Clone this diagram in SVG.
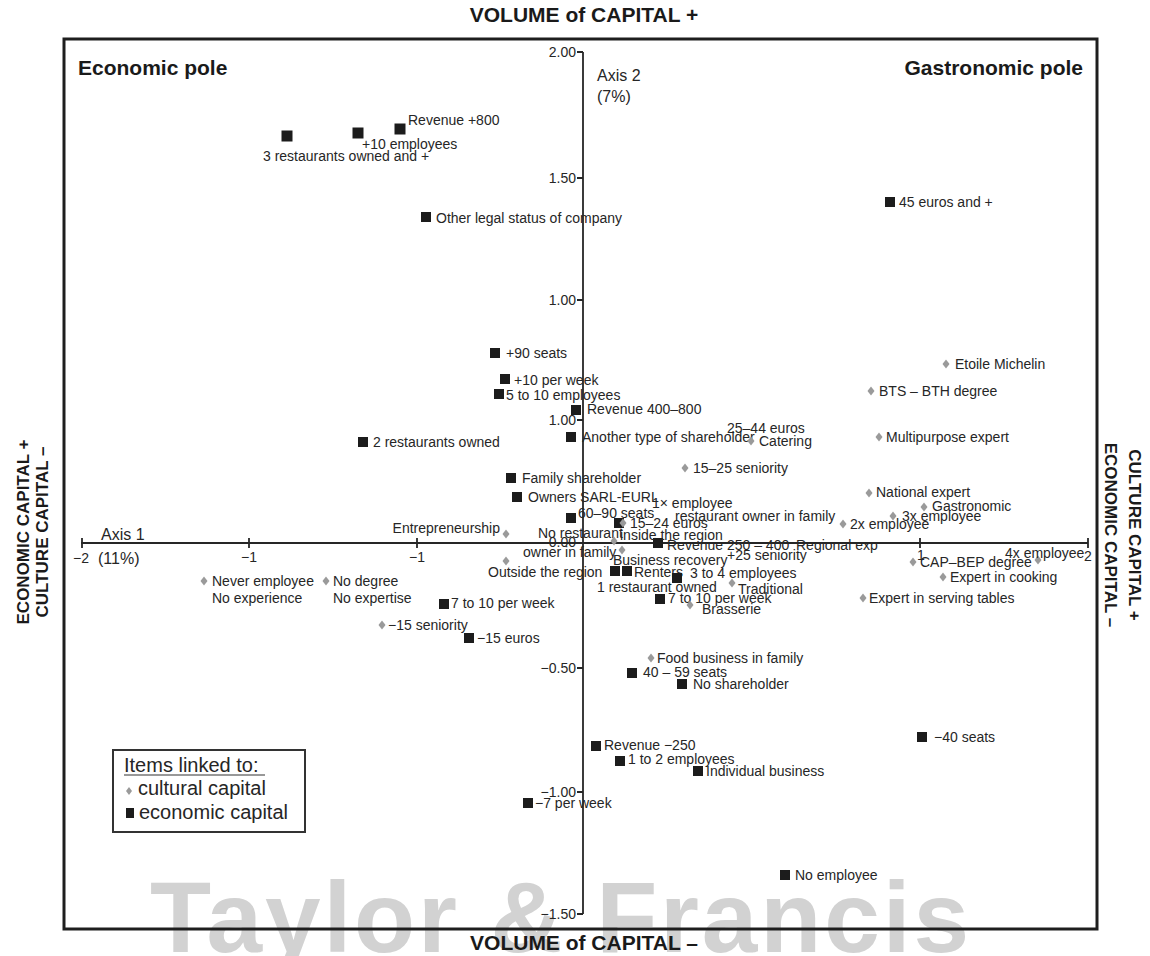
<svg xmlns="http://www.w3.org/2000/svg" width="1150" height="956" viewBox="0 0 1150 956">
<style>
text{font-family:"Liberation Sans",Arial,Helvetica,sans-serif;fill:#262626}
.t{font-size:14px}
.k{font-size:14px}
.h{font-size:21px;font-weight:bold;fill:#1a1a1a}
.v{font-size:17px;font-weight:bold;fill:#1a1a1a}
.ax{font-size:16px}
.lg{font-size:20px}
.sq{fill:#1c1c1c}
.dm{fill:#9a9a9a}
.ln{stroke:#262626;stroke-width:1.8;fill:none}
.wm{font-size:100px;font-weight:bold;fill:#d2d2d2}
</style>
<defs>
<rect id="s" x="-5" y="-5" width="10" height="10"/>
<rect id="sL" x="-5.5" y="-5.5" width="11" height="11"/>
<path id="d" d="M0,-4.5L3.5,0L0,4.5L-3.5,0Z"/>
</defs>
<rect width="1150" height="956" fill="#fff"/>
<text class="wm" x="150" y="952" textLength="819" lengthAdjust="spacing">Taylor &amp; Francis</text>
<rect x="64" y="39" width="1033" height="890" fill="none" stroke="#1e1e1e" stroke-width="3"/>
<text class="h" x="584" y="22" text-anchor="middle">VOLUME of CAPITAL +</text>
<text class="h" x="584" y="950" text-anchor="middle">VOLUME of CAPITAL –</text>
<text class="h" x="78" y="75">Economic pole</text>
<text class="h" x="1083" y="75" text-anchor="end">Gastronomic pole</text>
<text class="v" transform="translate(29,532) rotate(-90)" text-anchor="middle">ECONOMIC CAPITAL +</text>
<text class="v" transform="translate(48,532) rotate(-90)" text-anchor="middle">CULTURE CAPITAL –</text>
<text class="v" transform="translate(1129,535) rotate(90)" text-anchor="middle">CULTURE CAPITAL +</text>
<text class="v" transform="translate(1105,535) rotate(90)" text-anchor="middle">ECONOMIC CAPITAL –</text>
<g id="axes">
<path class="ln" d="M81,543H1088M583,52V914M82,538V548M249,538V548M417,538V548M920,538V548M1088,538V548M577,52H583M577,178H583M577,300H583M577,420H583M577,668H583M577,792H583M577,914H583"/>
<g class="k" text-anchor="end">
<text x="576" y="57">2.00</text>
<text x="576" y="183">1.50</text>
<text x="576" y="305">1.00</text>
<text x="576" y="425">1.00</text>
<text x="576" y="547">0.00</text>
<text x="576" y="673">−0.50</text>
<text x="576" y="797">−1.00</text>
<text x="576" y="919">−1.50</text>
</g>
<g class="k" text-anchor="middle">
<text x="81" y="563">−2</text>
<text x="249" y="562">−1</text>
<text x="417" y="562">−1</text>
<text x="921" y="560">1</text>
<text x="1088" y="561">2</text>
</g>
<text class="ax" x="101" y="540">Axis 1</text>
<text class="ax" x="98" y="564">(11%)</text>
<text class="ax" x="597" y="81">Axis 2</text>
<text class="ax" x="597" y="102">(7%)</text>
</g>
<g id="economic-items" class="t">
<g id="e1"><use href="#sL" class="sq" x="287" y="136"/><text x="263" y="161">3 restaurants owned and +</text></g>
<g id="e2"><use href="#sL" class="sq" x="358" y="133"/><text x="362" y="149">+10 employees</text></g>
<g id="e3"><use href="#sL" class="sq" x="400" y="129"/><text x="408" y="125">Revenue +800</text></g>
<g id="e4"><use href="#s" class="sq" x="426" y="217"/><text x="436" y="223">Other legal status of company</text></g>
<g id="e5"><use href="#s" class="sq" x="890" y="202"/><text x="899" y="207">45 euros and +</text></g>
<g id="e6"><use href="#s" class="sq" x="495" y="353"/><text x="506" y="358">+90 seats</text></g>
<g id="e7"><use href="#s" class="sq" x="505" y="379"/><text x="514" y="385">+10 per week</text></g>
<g id="e8"><use href="#s" class="sq" x="499" y="394"/><text x="506" y="400">5 to 10 employees</text></g>
<g id="e9"><use href="#s" class="sq" x="576" y="410"/><text x="587" y="414">Revenue 400–800</text></g>
<g id="e10"><use href="#s" class="sq" x="571" y="437"/><text x="582" y="442">Another type of shareholder</text></g>
<g id="e11"><use href="#s" class="sq" x="363" y="442"/><text x="373" y="447">2 restaurants owned</text></g>
<g id="e12"><use href="#s" class="sq" x="511" y="478"/><text x="522" y="483">Family shareholder</text></g>
<g id="e13"><use href="#s" class="sq" x="517" y="497"/><text x="528" y="502">Owners SARL-EURL</text></g>
<g id="e14"><use href="#s" class="sq" x="571" y="518"/><text x="578" y="518">60–90 seats</text></g>
<g id="e15"><use href="#s" class="sq" x="619" y="523"/><text x="630" y="528">15–24 euros</text></g>
<g id="e16"><use href="#s" class="sq" x="658" y="543"/><text x="667" y="550">Revenue 250 – 400</text></g>
<g id="e17"><use href="#s" class="sq" x="615" y="571"/><text x="597" y="592">1 restaurant owned</text></g>
<g id="e18"><use href="#s" class="sq" x="627" y="571"/><text x="634" y="577">Renters</text></g>
<g id="e19"><use href="#s" class="sq" x="677" y="578"/><text x="690" y="578">3 to 4 employees</text></g>
<g id="e20"><use href="#s" class="sq" x="660" y="599"/><text x="668" y="603">7 to 10 per week</text></g>
<g id="e21"><use href="#s" class="sq" x="444" y="604"/><text x="451" y="608">7 to 10 per week</text></g>
<g id="e22"><use href="#s" class="sq" x="469" y="638"/><text x="477" y="643">−15 euros</text></g>
<g id="e23"><use href="#s" class="sq" x="632" y="673"/><text x="643" y="677">40 – 59 seats</text></g>
<g id="e24"><use href="#s" class="sq" x="682" y="684"/><text x="693" y="689">No shareholder</text></g>
<g id="e25"><use href="#s" class="sq" x="596" y="746"/><text x="604" y="750">Revenue −250</text></g>
<g id="e26"><use href="#s" class="sq" x="620" y="761"/><text x="628" y="764">1 to 2 employees</text></g>
<g id="e27"><use href="#s" class="sq" x="698" y="771"/><text x="706" y="776">Individual business</text></g>
<g id="e28"><use href="#s" class="sq" x="528" y="803"/><text x="535" y="808">−7 per week</text></g>
<g id="e29"><use href="#s" class="sq" x="922" y="737"/><text x="934" y="742">−40 seats</text></g>
<g id="e30"><use href="#s" class="sq" x="785" y="875"/><text x="795" y="880">No employee</text></g>
</g>
<g id="cultural-items" class="t">
<g id="c1"><use href="#d" class="dm" x="946" y="364"/><text x="955" y="369">Etoile Michelin</text></g>
<g id="c2"><use href="#d" class="dm" x="871" y="391"/><text x="879" y="396">BTS – BTH degree</text></g>
<g id="c3"><use href="#d" class="dm" x="879" y="437"/><text x="886" y="442">Multipurpose expert</text></g>
<g id="c4"><text x="727" y="433">25–44 euros</text></g>
<g id="c5"><use href="#d" class="dm" x="751" y="441"/><text x="759" y="446">Catering</text></g>
<g id="c6"><use href="#d" class="dm" x="685" y="468"/><text x="693" y="473">15–25 seniority</text></g>
<g id="c7"><use href="#d" class="dm" x="869" y="493"/><text x="876" y="497">National expert</text></g>
<g id="c8"><use href="#d" class="dm" x="924" y="507"/><text x="932" y="511">Gastronomic</text></g>
<g id="c9"><use href="#d" class="dm" x="893" y="516"/><text x="902" y="521">3x employee</text></g>
<g id="c10"><use href="#d" class="dm" x="843" y="524"/><text x="850" y="529">2x employee</text></g>
<g id="c11"><text x="675" y="521">restaurant owner in family</text></g>
<g id="c12"><text x="652" y="508">1× employee</text></g>
<g id="c13"><use href="#d" class="dm" x="506" y="534"/><text x="500" y="533" text-anchor="end">Entrepreneurship</text></g>
<g id="c14"><text x="538" y="538">No restaurant</text><text x="523" y="557">owner in family</text></g>
<g id="c15"><use href="#d" class="dm" x="614" y="541"/><text x="620" y="540">inside the region</text></g>
<g id="c16"><use href="#d" class="dm" x="623" y="523"/></g>
<g id="c17"><use href="#d" class="dm" x="622" y="550"/><text x="613" y="565">Business recovery</text></g>
<g id="c18"><use href="#d" class="dm" x="506" y="561"/><text x="488" y="577">Outside the region</text></g>
<g id="c19"><text x="727" y="560">+25 seniority</text></g>
<g id="c20"><text x="796" y="550">Regional exp</text></g>
<g id="c21"><use href="#d" class="dm" x="732" y="583"/><text x="738" y="594">Traditional</text></g>
<g id="c22"><use href="#d" class="dm" x="690" y="605"/><text x="702" y="614">Brasserie</text></g>
<g id="c23"><use href="#d" class="dm" x="913" y="562"/><text x="920" y="567">CAP–BEP degree</text></g>
<g id="c24"><use href="#d" class="dm" x="1038" y="560"/><text x="1005" y="558">4x employee</text></g>
<g id="c25"><use href="#d" class="dm" x="943" y="577"/><text x="950" y="582">Expert in cooking</text></g>
<g id="c26"><use href="#d" class="dm" x="863" y="598"/><text x="869" y="603">Expert in serving tables</text></g>
<g id="c27"><use href="#d" class="dm" x="204" y="581"/><text x="212" y="586">Never employee</text><text x="212" y="603">No experience</text></g>
<g id="c28"><use href="#d" class="dm" x="326" y="581"/><text x="333" y="586">No degree</text><text x="333" y="603">No expertise</text></g>
<g id="c29"><use href="#d" class="dm" x="382" y="625"/><text x="388" y="630">−15 seniority</text></g>
<g id="c30"><use href="#d" class="dm" x="651" y="658"/><text x="657" y="663">Food business in family</text></g>
</g>
<g id="legend" class="lg">
<rect x="113" y="750" width="192" height="82" fill="#fff" stroke="#333" stroke-width="2"/>
<text x="124" y="772">Items linked to:</text>
<line x1="124" y1="775" x2="265" y2="775" stroke="#333" stroke-width="1.2"/>
<path class="dm" d="M129,787L132,791L129,795L126,791Z"/>
<text x="138" y="795">cultural capital</text>
<rect class="sq" x="126" y="808" width="8" height="10"/>
<text x="139" y="819">economic capital</text>
</g>
</svg>
